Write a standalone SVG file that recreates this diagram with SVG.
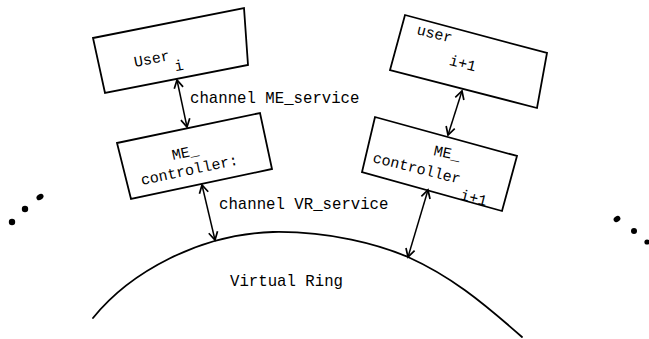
<svg xmlns="http://www.w3.org/2000/svg" width="649" height="339" viewBox="0 0 649 339">
<defs>
<style>
.box{fill:none;stroke:#000;stroke-width:1.8;stroke-linejoin:miter}
.t{font-family:"Liberation Mono","DejaVu Sans Mono",monospace;font-size:15px;fill:#000}
.lbl{font-family:"Liberation Mono","DejaVu Sans Mono",monospace;font-size:15.7px;fill:#000}
.conn{fill:none;stroke:#000;stroke-width:1.5;marker-start:url(#ah);marker-end:url(#ah)}
.ring{fill:none;stroke:#000;stroke-width:1.8;stroke-linecap:round}
</style>
<marker id="ah" viewBox="-10 -6 12 12" refX="0" refY="0" markerWidth="12" markerHeight="12" markerUnits="userSpaceOnUse" orient="auto-start-reverse">
<path d="M-8,-4.5 L0,0 L-8,4.5" fill="none" stroke="#000" stroke-width="1.7"/>
</marker>
</defs>
<rect width="649" height="339" fill="#fff"/>

<g id="user_i">
<polygon class="box" points="93,38 244,8 248,65 105,93"/>
<text class="t" x="135" y="67" transform="rotate(-11 135 67)">User<tspan dx="3" dy="12">i</tspan></text>
</g>

<g id="user_i1">
<polygon class="box" points="405,15 547,53 537,108 390,70"/>
<text class="t" x="416" y="34" transform="rotate(14 416 34)">user<tspan dx="3" dy="22">i+1</tspan></text>
</g>

<g id="me_controller_i">
<polygon class="box" points="117,143 260,113 272,169 131,199"/>
<text class="t" x="173" y="160" transform="rotate(-12 173 160)">ME_</text>
<text class="t" x="142" y="185" transform="rotate(-12 142 185)">controller:</text>
</g>

<g id="me_controller_i1">
<polygon class="box" points="375,117 517,156 502,211 362,172"/>
<text class="t" x="433" y="155" transform="rotate(12 433 155)">ME_</text>
<text class="t" x="372" y="162" transform="rotate(14 372 162)">controller<tspan dx="4" dy="15">i+1</tspan></text>
</g>

<g id="virtual_ring">
<path class="ring" d="M93,318 C130,272 200,234 273,232 C330,231 380,245 408,257 C450,276 480,300 522,337"/>
<text class="lbl" x="230" y="286">Virtual Ring</text>
</g>

<g id="connectors">
<line class="conn" x1="177" y1="80" x2="187" y2="127"/>
<line class="conn" x1="202" y1="185" x2="215" y2="240"/>
<line class="conn" x1="462" y1="91" x2="448" y2="135"/>
<line class="conn" x1="428" y1="190" x2="408" y2="257"/>
<text class="lbl" x="190" y="103">channel ME_service</text>
<text class="lbl" x="219" y="208.5">channel VR_service</text>
</g>

<g id="dots_left">
<ellipse cx="40" cy="197" rx="3.8" ry="2.8" transform="rotate(-35 40 197)"/>
<circle cx="25" cy="209" r="3.2"/>
<circle cx="12" cy="222" r="3.2"/>
</g>
<g id="dots_right">
<ellipse cx="617" cy="219" rx="3.6" ry="2.8" transform="rotate(-35 617 219)"/>
<circle cx="634" cy="231" r="3"/>
<circle cx="647" cy="242" r="2.6"/>
</g>
</svg>
